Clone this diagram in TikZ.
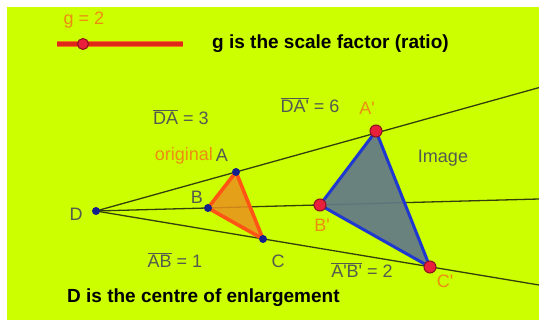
\documentclass[tikz,border=0pt]{standalone}
\usepackage{fontspec}
\setmainfont{Liberation Sans}
\definecolor{bg}{HTML}{CCFF00}
\definecolor{lblgray}{HTML}{555A50}
\definecolor{lblorange}{HTML}{EC8C10}
\definecolor{raycol}{HTML}{34400C}
\definecolor{navy}{HTML}{14208C}
\definecolor{ptred}{HTML}{E8203C}
\definecolor{ptdark}{HTML}{8C1020}
\definecolor{sliderred}{HTML}{E02818}
\definecolor{sliderorange}{HTML}{F07818}
\definecolor{origfill}{HTML}{EA901E}
\definecolor{origedge}{HTML}{FF5414}
\definecolor{imgfill}{HTML}{627888}
\definecolor{imgedge}{HTML}{1E38D0}
\newcommand\prm{\textquotesingle}
\begin{document}
\begin{tikzpicture}[x=1pt,y=-1pt,
  lbl/.style={font=\fontsize{18}{20}\selectfont, text=lblgray, inner sep=0},
  olbl/.style={lbl, text=lblorange},
  head/.style={font=\bfseries\fontsize{19}{22}\selectfont, text=black, inner sep=0, anchor=west},
  ray/.style={draw=raycol, line width=1.3pt},
  smalldot/.style={circle, fill=navy, inner sep=0, minimum size=8pt},
  bigdot/.style={circle, fill=ptred, draw=ptdark, line width=1pt, inner sep=0, minimum size=12pt}]
\fill[white] (0,0) rectangle (539,323);
\useasboundingbox (0,0) rectangle (539,323);
\fill[bg] (7,7) rectangle (539,320);
% slider
\coordinate (s1) at (57,44);
\coordinate (s2) at (183,44);
\draw[line width=6pt, sliderorange] (s1) -- (s2);
\draw[line width=3.6pt, sliderred] (s1) -- (s2);
\node[bigdot, minimum size=11pt] (g) at (83,44) {};
\node[olbl] (glabel) at (84,20) {g = 2};
\node[head] (title) at (212,44) {g is the scale factor (ratio)};
% positions
\coordinate (pD) at (96,211);
\coordinate (pA) at (236,172);
\coordinate (pB) at (208,208);
\coordinate (pC) at (263,239);
\coordinate (pA2) at (376,131);
\coordinate (pB2) at (320,205);
\coordinate (pC2) at (430,267);
\coordinate (EA) at (539,87.6);
\coordinate (EB) at (539,199);
\coordinate (EC) at (539,285);
% rays
\draw[ray] (pD) -- (EA);
\draw[ray] (pD) -- (EB);
\draw[ray] (pD) -- (EC);
% triangles
\fill[origfill, fill opacity=0.85] (pA) -- (pB) -- (pC) -- cycle;
\draw[origedge, line width=3.6pt, line join=round] (pA) -- (pB) -- (pC) -- cycle;
\fill[imgfill, fill opacity=0.92] (pA2) -- (pB2) -- (pC2) -- cycle;
\draw[imgedge, line width=3pt, line join=round] (pA2) -- (pB2) -- (pC2) -- cycle;
% points
\node[smalldot] (D) at (pD) {};
\node[smalldot] (A) at (pA) {};
\node[smalldot] (B) at (pB) {};
\node[smalldot] (C) at (pC) {};
\node[bigdot] (A2) at (pA2) {};
\node[bigdot] (B2) at (pB2) {};
\node[bigdot] (C2) at (pC2) {};
% labels
\node[lbl] (lD) at (76,214) {D};
\node[lbl] (lA) at (222,155) {A};
\node[olbl, anchor=east] (lorig) at (213,156) {original};
\node[lbl] (lB) at (197,197) {B};
\node[lbl] (lC) at (278,261) {C};
\node[olbl] (lA2) at (367,108) {A\prm};
\node[olbl] (lB2) at (322,225) {B\prm};
\node[olbl] (lC2) at (445,281) {C\prm};
\node[lbl] (limg) at (443,158) {Image};
\node[lbl] (lDA) at (181,117) {$\overline{\mbox{DA}}$ = 3};
\node[lbl] (lDA2) at (310,105) {$\overline{\mbox{DA\prm}}$ = 6};
\node[lbl] (lAB) at (175,260) {$\overline{\mbox{AB}}$ = 1};
\node[lbl] (lAB2) at (362,270) {$\overline{\mbox{A\prm B\prm}}$ = 2};
\node[head] (foot) at (67,298) {D is the centre of enlargement};
\end{tikzpicture}
\end{document}
